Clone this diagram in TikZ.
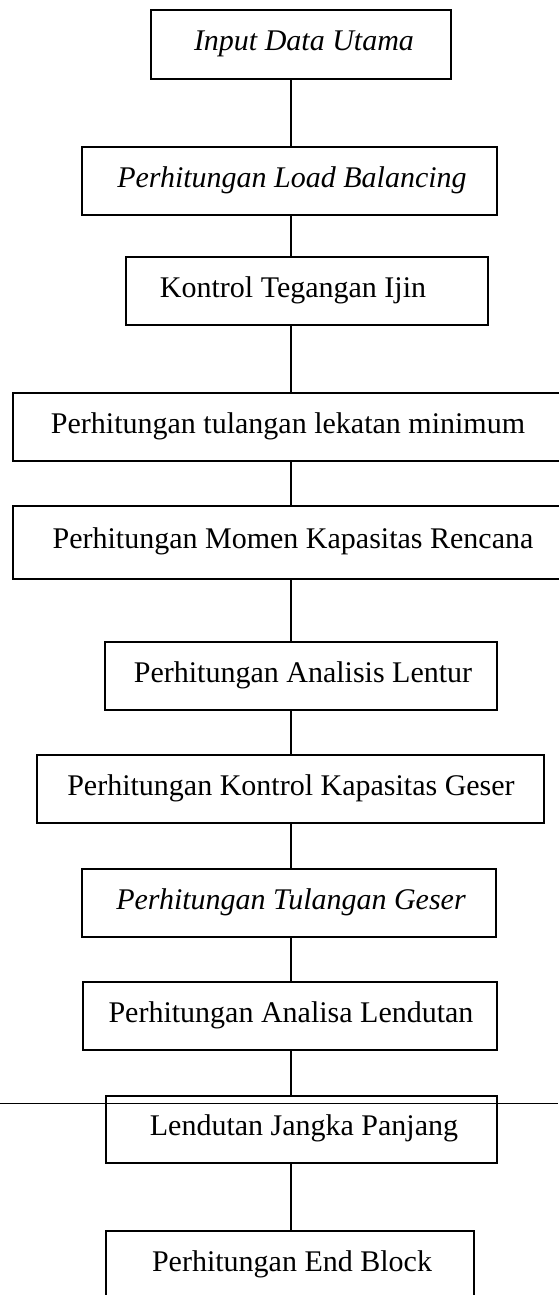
\documentclass[tikz,border=0pt]{standalone}
\usepackage{fontspec}
\setmainfont{Liberation Serif}
\tikzset{
  boxst/.style={draw=black, line width=0.75pt, inner sep=0pt, outer sep=0pt, fill=none},
  txt/.style={inner sep=0pt, anchor=base, font=\fontsize{15}{18}\selectfont},
  conn/.style={draw=black, line width=0.65pt},
  scanline/.style={draw=black, line width=0.5pt}
}
\newcommand\mybox[5]{\node[boxst, anchor=north west, minimum width={(#4-#2)*0.5pt}, minimum height={(#5-#3)*0.5pt}] (#1) at (#2,#3) {};}
\begin{document}
\begin{tikzpicture}[x=0.5pt, y=-0.5pt]
\useasboundingbox (0,0) rectangle (558,1295);
% boxes
\mybox{b1}{151}{10}{451}{79}
\mybox{b2}{82}{147}{497}{215}
\mybox{b3}{126}{257}{488}{325}
\mybox{b4}{13}{393}{575}{461}
\mybox{b5}{13}{506}{575}{579}
\mybox{b6}{105}{642}{497}{710}
\mybox{b7}{37}{755}{544}{823}
\mybox{b8}{82}{869}{496}{937}
\mybox{b9}{83}{982}{497}{1050}
\mybox{b10}{106}{1096}{497}{1163}
\mybox{b11}{106}{1231}{474}{1299}
% texts
\node[txt] (t1) at (304,50.5) {\itshape Input Data Utama};
\node[txt] (t2) at (292,187) {\itshape Perhitungan Load Balancing};
\node[txt] (t3) at (293,297) {Kontrol Tegangan Ijin};
\node[txt] (t4) at (288,433) {Perhitungan tulangan lekatan minimum};
\node[txt] (t5) at (293,548) {Perhitungan Momen Kapasitas Rencana};
\node[txt] (t6) at (303,682) {Perhitungan Analisis Lentur};
\node[txt] (t7) at (291,795) {Perhitungan Kontrol Kapasitas Geser};
\node[txt] (t8) at (291,909) {\itshape Perhitungan Tulangan Geser};
\node[txt] (t9) at (291,1022) {Perhitungan Analisa Lendutan};
\node[txt] (t10) at (304,1135) {Lendutan Jangka Panjang};
\node[txt] (t11) at (292,1271) {Perhitungan End Block};
% connectors
\coordinate (sp) at (291,0);
\draw[conn] (b1.south -| sp) -- (b2.north -| sp);
\draw[conn] (b2.south -| sp) -- (b3.north -| sp);
\draw[conn] (b3.south -| sp) -- (b4.north -| sp);
\draw[conn] (b4.south -| sp) -- (b5.north -| sp);
\draw[conn] (b5.south -| sp) -- (b6.north -| sp);
\draw[conn] (b6.south -| sp) -- (b7.north -| sp);
\draw[conn] (b7.south -| sp) -- (b8.north -| sp);
\draw[conn] (b8.south -| sp) -- (b9.north -| sp);
\draw[conn] (b9.south -| sp) -- (b10.north -| sp);
\draw[conn] (b10.south -| sp) -- (b11.north -| sp);
% horizontal scan line
\coordinate (hl) at (0,1103);
\coordinate (hr) at (558,1103);
\draw[scanline] (hl) -- (hr);
\end{tikzpicture}
\end{document}
